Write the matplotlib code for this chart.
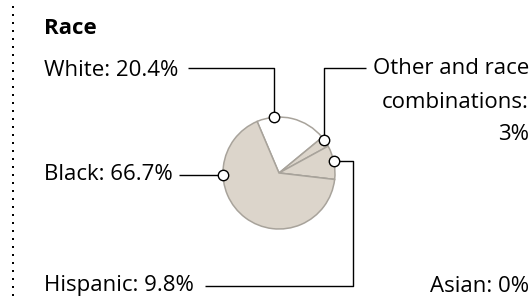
import numpy as np
import matplotlib.pyplot as plt

plt.rcParams["font.family"] = ["Open Sans", "DejaVu Sans"]

# data (clockwise from the top-left edge of the White slice)
labels = ["White", "Other and race combinations", "Hispanic", "Asian", "Black"]
values = [20.4, 3.0, 9.8, 0.0, 66.7]
texts = {
    "White": "White: 20.4%",
    "Other and race combinations": "Other and race\ncombinations:\n3%",
    "Hispanic": "Hispanic: 9.8%",
    "Asian": "Asian: 0%",
    "Black": "Black: 66.7%",
}

W, H = 531, 300
beige = "#dcd5cb"
edge = "#a8a39b"
slice_colors = ["white", beige, beige, beige, beige]


def py(y):
    # pixel row (from top) -> data y
    return H - y


fig = plt.figure(figsize=(W / 100, H / 100), dpi=100)
ax = fig.add_axes([0, 0, 1, 1])

cx, cy, R = 279, py(173), 56
wedges, _ = ax.pie(
    values,
    colors=slice_colors,
    startangle=113,
    counterclock=False,
    center=(cx, cy),
    radius=R,
    frame=True,
    wedgeprops=dict(edgecolor=edge, linewidth=1.1),
)
ax.set_xlim(0, W)
ax.set_ylim(0, H)
ax.set_aspect("equal")
ax.axis("off")


def on_rim(deg):
    # deg measured clockwise from 12 o'clock
    a = np.deg2rad(90 - deg)
    return cx + R * np.cos(a), cy + R * np.sin(a)


line_kw = dict(color="black", lw=1.0, solid_capstyle="butt", zorder=3)
dot_kw = dict(marker="o", ms=7.5, mfc="white", mec="black", mew=1.0, zorder=4)
fs = 16

# White
x0, y0 = on_rim(-5)
ax.plot([x0, x0, 188], [y0, py(68), py(68)], **line_kw)
ax.plot(x0, y0, **dot_kw)
ax.text(44, py(70), texts["White"], fontsize=fs, va="center", ha="left")

# Other
x0, y0 = on_rim(54)
ax.plot([x0, x0, 366], [y0, py(68), py(68)], **line_kw)
ax.plot(x0, y0, **dot_kw)
ax.text(529, py(102), texts["Other and race combinations"], fontsize=fs,
        va="center", ha="right", multialignment="right", linespacing=1.75)

# Hispanic
x0, y0 = on_rim(77.5)
ax.plot([x0, 353, 353, 205], [y0, y0, py(286), py(286)], **line_kw)
ax.plot(x0, y0, **dot_kw)
ax.text(44, py(286), texts["Hispanic"], fontsize=fs, va="center", ha="left")

# Black
x0, y0 = on_rim(268)
ax.plot([x0, 179], [y0, y0], **line_kw)
ax.plot(x0, y0, **dot_kw)
ax.text(44, py(175), texts["Black"], fontsize=fs, va="center", ha="left")

# Asian (no leader)
ax.text(529, py(286), texts["Asian"], fontsize=fs, va="center", ha="right")

ax.text(44, py(28), "Race", fontsize=fs, fontweight="bold", va="center", ha="left")

# dotted separator on the left
ax.vlines(12.5, py(296), py(5), colors="black", lw=1.44, linestyles=(0, (1, 3)))

fig.savefig("out.png", dpi=100)
